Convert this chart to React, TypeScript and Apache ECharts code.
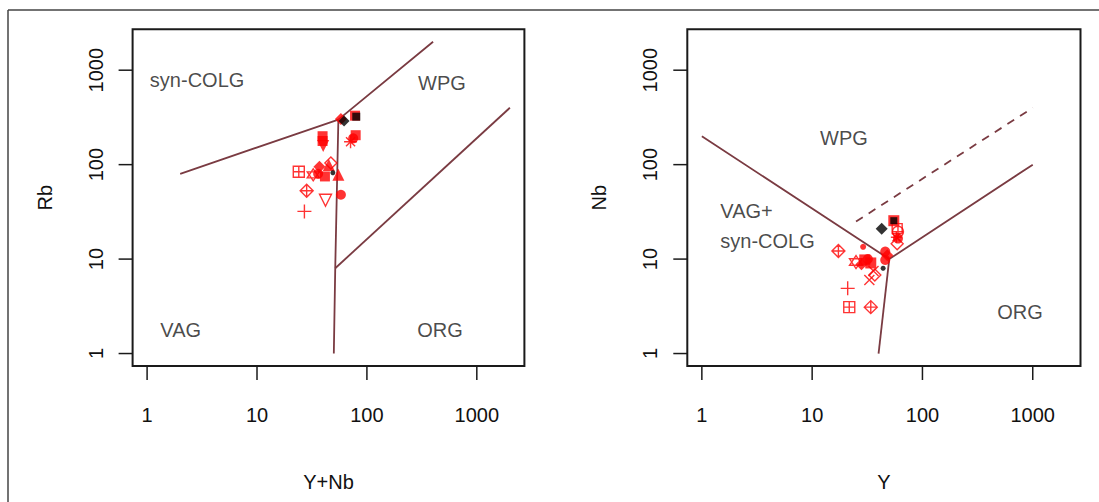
import React, { useEffect, useRef } from 'react';
import * as echarts from 'echarts';

// ---- axes ----
const AXIS_MIN = 0.738;
const AXIS_MAX = 2710;
const TICK_VALUES = [1, 10, 100, 1000];
const X_TITLES = ['Y+Nb', 'Y'];
const Y_TITLES = ['Rb', 'Nb'];

// ---- discrimination boundaries (Rb vs Y+Nb) ----
const RB_LINE_UPPER = [[2, 80], [55, 300], [400, 2000]];
const RB_LINE_VERTICAL = [[55, 300], [51.5, 8], [50, 1]];
const RB_LINE_ORG = [[51.5, 8], [2000, 400]];

// ---- discrimination boundaries (Nb vs Y) ----
const NB_LINE_MAIN = [[1, 200], [50, 10], [1000, 100]];
const NB_LINE_VERTICAL = [[50, 10], [40, 1]];
const NB_LINE_DASHED = [[25, 25], [1000, 400]];

// ---- field labels ----
const RB_FIELDS = [
  { name: 'syn-COLG', value: [2.85, 787] },
  { name: 'WPG', value: [482, 738] },
  { name: 'VAG', value: [2.02, 1.77] },
  { name: 'ORG', value: [462, 1.77] },
];
const NB_FIELDS = [
  { name: 'WPG', value: [19.4, 190] },
  { name: 'ORG', value: [766, 2.77] },
];
const NB_FIELD_VAG = { name: 'VAG+\nsyn-COLG', value: [1.47, 22.5] };

// ---- samples, Rb vs Y+Nb ----
const RB_RED_SQUARE = [[39.5, 200], [39.5, 178], [79, 205], [41.5, 75], [78, 330]];
const RB_BLACK_SQUARE = [[80, 322]];
const RB_RED_DIAMOND = [[58, 305], [37, 95]];
const RB_BLACK_DIAMOND = [[62, 290]];
const RB_RED_CIRCLE = [[58, 48], [36, 80], [75, 190]];
const RB_BLACK_CIRCLE = [[49, 82]];
const RB_RED_TRIANGLE = [[45, 99], [55, 78]];
const RB_RED_DOWN_TRIANGLE = [[40, 158]];
const RB_OPEN_DOWN_TRIANGLE = [[42, 42]];
const RB_OPEN_DIAMOND = [[47, 104]];
const RB_SQUARE_PLUS = [[24, 84]];
const RB_DIAMOND_PLUS = [[28.3, 53]];
const RB_CROSS = [[27, 32]];
const RB_ASTERISK = [[71, 175]];
const RB_HEXAGRAM = [[32.5, 78]];

// ---- samples, Nb vs Y ----
const NB_RED_SQUARE = [[55, 25.5], [30, 9.8], [34, 9.1]];
const NB_BLACK_SQUARE = [[55, 25.5]];
const NB_BLACK_DIAMOND = [[42.7, 21]];
const NB_RED_CIRCLE = [[46, 12], [46, 9.8], [32, 10], [60, 16.5]];
const NB_RED_SMALL_CIRCLE = [[29, 13.5]];
const NB_BLACK_CIRCLE = [[44, 8]];
const NB_RED_DIAMOND = [[28, 8.8], [48, 11]];
const NB_OPEN_DIAMOND = [[37, 6.8], [59, 14.5]];
const NB_SQUARE_PLUS = [[21.7, 3.1]];
const NB_DIAMOND_PLUS = [[17.3, 12.2], [34, 3.1]];
const NB_CIRCLE_PLUS = [[60, 19.5]];
const NB_CROSS = [[21, 4.9]];
const NB_X = [[33, 6], [36, 7.5]];
const NB_HEXAGRAM = [[25, 9.3]];
const NB_ASTERISK = [[58, 17]];
const NB_OPEN_SQUARE = [[59, 21]];

const FONT = '"Liberation Sans", Arial, sans-serif';
const LINE_COLOR = '#7a3b42';
const RED = '#ff0000';
const BLACK = '#000000';
const NONE = 'rgba(0,0,0,0)';

const SYM = {
  squarePlus: 'path://M0,0L10,0L10,10L0,10Z M5,0L5,10 M0,5L10,5',
  diamondPlus: 'path://M5,0L10,5L5,10L0,5Z M5,0L5,10 M0,5L10,5',
  circlePlus: 'path://M10,5A5,5,0,1,1,0,5A5,5,0,1,1,10,5Z M5,0L5,10 M0,5L10,5',
  cross: 'path://M5,0L5,10 M0,5L10,5',
  x: 'path://M0,0L10,10 M10,0L0,10',
  asterisk: 'path://M5,0L5,10 M0,5L10,5 M1.5,1.5L8.5,8.5 M8.5,1.5L1.5,8.5',
  down: 'path://M0,0L10,0L5,9Z',
  hexagram: 'path://M5,0L9.33,7.5L0.67,7.5Z M5,10L0.67,2.5L9.33,2.5Z',
  diamondOpen: 'path://M5,0L10,5L5,10L0,5Z',
  squareOpen: 'path://M0,0L10,0L10,10L0,10Z',
};

function pts(data: number[][], gi: number, symbol: string, size: number, fill: string, stroke?: string) {
  return {
    type: 'scatter',
    xAxisIndex: gi,
    yAxisIndex: gi,
    data,
    symbol,
    symbolSize: size,
    silent: true,
    z: 5,
    itemStyle: stroke
      ? { color: NONE, borderColor: stroke, borderWidth: 1.4 }
      : { color: fill, borderWidth: 0 },
  };
}

function boundary(data: number[][], gi: number, dashed = false) {
  return {
    type: 'line',
    xAxisIndex: gi,
    yAxisIndex: gi,
    data,
    symbol: 'none',
    silent: true,
    z: 3,
    lineStyle: { color: LINE_COLOR, width: 1.8, type: dashed ? [8, 7] : 'solid' },
  };
}

function ticks(gi: number, axis: 'x' | 'y') {
  return {
    type: 'custom',
    xAxisIndex: gi,
    yAxisIndex: gi,
    clip: false,
    silent: true,
    data: TICK_VALUES.map((v) => (axis === 'x' ? [v, AXIS_MIN] : [AXIS_MIN, v])),
    renderItem: (_p: any, api: any) => {
      const p = api.coord([api.value(0), api.value(1)]);
      const shape =
        axis === 'x'
          ? { x1: p[0], y1: p[1], x2: p[0], y2: p[1] + 14 }
          : { x1: p[0], y1: p[1], x2: p[0] - 14, y2: p[1] };
      return { type: 'line', shape, style: { stroke: '#1a1a1a', lineWidth: 1.5 } };
    },
  };
}

function fieldLabels(gi: number, items: any[]) {
  return {
    type: 'scatter',
    xAxisIndex: gi,
    yAxisIndex: gi,
    data: items,
    symbolSize: 0,
    silent: true,
    z: 4,
    label: {
      show: true,
      position: 'inside',
      formatter: '{b}',
      fontSize: 20,
      color: '#1a1a1a',
      fontFamily: FONT,
    },
  };
}

export default function App() {
  const ref = useRef<HTMLDivElement>(null);
  useEffect(() => {
    document.body.style.margin = '0';
    const chart = echarts.init(ref.current!, null, { renderer: 'svg' });
    const textStyle = { fontSize: 20, color: '#111', fontFamily: FONT };
    const grids = [
      { left: 132.6, top: 29.3, width: 391.8, height: 336.7 },
      { left: 687.3, top: 29.3, width: 393.2, height: 336.7 },
    ].map((g) => ({ ...g, show: true, borderColor: '#1a1a1a', borderWidth: 2, backgroundColor: 'transparent' }));
    const xAxis = [0, 1].map((i) => ({
      type: 'log',
      logBase: 10,
      gridIndex: i,
      min: AXIS_MIN,
      max: AXIS_MAX,
      axisLine: { show: false },
      axisTick: { show: false },
      splitLine: { show: false },
      axisLabel: {
        ...textStyle,
        margin: 39,
        showMinLabel: false,
        showMaxLabel: false,
        formatter: (v: number) => String(Math.round(v)),
      },
      name: X_TITLES[i],
      nameLocation: 'middle',
      nameGap: 106,
      nameTextStyle: textStyle,
    }));
    const yAxis = [0, 1].map((i) => ({
      type: 'log',
      logBase: 10,
      gridIndex: i,
      min: AXIS_MIN,
      max: AXIS_MAX,
      axisLine: { show: false },
      axisTick: { show: false },
      splitLine: { show: false },
      axisLabel: {
        ...textStyle,
        margin: 27,
        rotate: 90,
        showMinLabel: false,
        showMaxLabel: false,
        formatter: (v: number) => String(Math.round(v)),
      },
      name: Y_TITLES[i],
      nameLocation: 'middle',
      nameGap: 78,
      nameTextStyle: textStyle,
    }));

    const series: any[] = [
      boundary(RB_LINE_UPPER, 0),
      boundary(RB_LINE_VERTICAL, 0),
      boundary(RB_LINE_ORG, 0),
      boundary(NB_LINE_MAIN, 1),
      boundary(NB_LINE_VERTICAL, 1),
      boundary(NB_LINE_DASHED, 1, true),
      ticks(0, 'x'),
      ticks(0, 'y'),
      ticks(1, 'x'),
      ticks(1, 'y'),
      fieldLabels(0, RB_FIELDS),
      fieldLabels(1, NB_FIELDS),
      {
        ...fieldLabels(1, [NB_FIELD_VAG]),
        label: {
          show: true,
          position: 'right',
          distance: 0,
          align: 'left',
          lineHeight: 30,
          formatter: '{b}',
          fontSize: 20,
          color: '#1a1a1a',
          fontFamily: FONT,
        },
      },
      // Rb vs Y+Nb samples
      pts(RB_OPEN_DOWN_TRIANGLE, 0, SYM.down, 12, RED, RED),
      pts(RB_SQUARE_PLUS, 0, SYM.squarePlus, 11, RED, RED),
      pts(RB_DIAMOND_PLUS, 0, SYM.diamondPlus, 13, RED, RED),
      pts(RB_CROSS, 0, SYM.cross, 14, RED, RED),
      pts(RB_ASTERISK, 0, SYM.asterisk, 13, RED, RED),
      pts(RB_HEXAGRAM, 0, SYM.hexagram, 12, RED, RED),
      pts(RB_OPEN_DIAMOND, 0, SYM.diamondOpen, 12, RED, RED),
      pts(RB_RED_SQUARE, 0, 'rect', 10, RED),
      pts(RB_RED_DIAMOND, 0, 'diamond', 12, RED),
      pts(RB_RED_CIRCLE, 0, 'circle', 10, RED),
      pts(RB_RED_TRIANGLE, 0, 'triangle', 12, RED),
      pts(RB_RED_DOWN_TRIANGLE, 0, SYM.down, 12, RED),
      pts(RB_BLACK_SQUARE, 0, 'rect', 8, BLACK),
      pts(RB_BLACK_DIAMOND, 0, 'diamond', 11, BLACK),
      pts(RB_BLACK_CIRCLE, 0, 'circle', 5, BLACK),
      // Nb vs Y samples
      pts(NB_SQUARE_PLUS, 1, SYM.squarePlus, 11, RED, RED),
      pts(NB_DIAMOND_PLUS, 1, SYM.diamondPlus, 13, RED, RED),
      pts(NB_CIRCLE_PLUS, 1, SYM.circlePlus, 11, RED, RED),
      pts(NB_CROSS, 1, SYM.cross, 14, RED, RED),
      pts(NB_X, 1, SYM.x, 10, RED, RED),
      pts(NB_HEXAGRAM, 1, SYM.hexagram, 13, RED, RED),
      pts(NB_ASTERISK, 1, SYM.asterisk, 11, RED, RED),
      pts(NB_OPEN_DIAMOND, 1, SYM.diamondOpen, 12, RED, RED),
      pts(NB_OPEN_SQUARE, 1, SYM.squareOpen, 10, RED, RED),
      pts(NB_RED_SQUARE, 1, 'rect', 11, RED),
      pts(NB_RED_CIRCLE, 1, 'circle', 10, RED),
      pts(NB_RED_SMALL_CIRCLE, 1, 'circle', 6, RED),
      pts(NB_RED_DIAMOND, 1, 'diamond', 12, RED),
      pts(NB_BLACK_SQUARE, 1, 'rect', 7, BLACK),
      pts(NB_BLACK_DIAMOND, 1, 'diamond', 12, BLACK),
      pts(NB_BLACK_CIRCLE, 1, 'circle', 5, BLACK),
    ];

    chart.setOption({
      animation: false,
      backgroundColor: '#ffffff',
      grid: grids,
      xAxis,
      yAxis,
      series,
      graphic: [
        { type: 'line', shape: { x1: 8, y1: 10, x2: 1099, y2: 10 }, style: { stroke: '#444', lineWidth: 1.5 }, silent: true },
        { type: 'line', shape: { x1: 8, y1: 10, x2: 8, y2: 502 }, style: { stroke: '#444', lineWidth: 1.5 }, silent: true },
      ],
    });
    return () => chart.dispose();
  }, []);
  return <div ref={ref} style={{ width: 1099, height: 502 }} />;
}
